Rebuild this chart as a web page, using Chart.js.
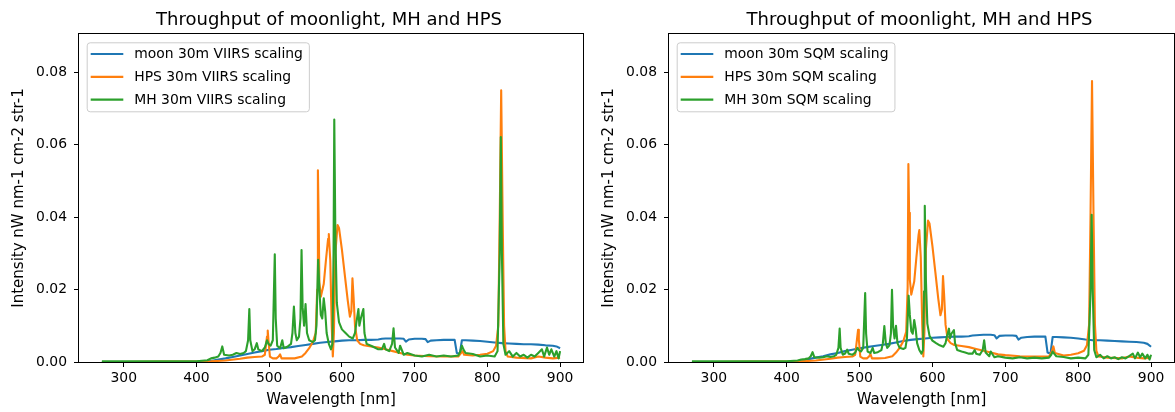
<!DOCTYPE html>
<html><head><meta charset="utf-8">
<script src="https://cdn.jsdelivr.net/npm/chart.js@4/dist/chart.umd.min.js"></script>
<style>
html,body{margin:0;padding:0;background:#fff;}
#wrap{position:relative;width:1175px;height:412px;overflow:hidden;background:#fff;}
.box{position:absolute;top:0;height:412px;}
canvas{display:block;}
</style></head><body>
<div id="wrap">
<div class="box" style="left:0;width:590px"><canvas id="c1" width="590" height="412"></canvas></div>
<div class="box" style="left:590px;width:585px"><canvas id="c2" width="585" height="412"></canvas></div>
</div>
<script>
// ---- tick labels ----
const xTicks = [300, 400, 500, 600, 700, 800, 900];
const yTicks = [0, 0.02, 0.04, 0.06, 0.08];

// ---- series labels ----
const labelsViirs = ['moon 30m VIIRS scaling', 'HPS 30m VIIRS scaling', 'MH 30m VIIRS scaling'];
const labelsSqm = ['moon 30m SQM scaling', 'HPS 30m SQM scaling', 'MH 30m SQM scaling'];

// ---- moonlight ----
const moonWl = [
  270, 300, 350, 400, 410, 420, 430, 440, 450, 460,
  470, 480, 490, 500, 510, 520, 530, 540, 550, 560,
  570, 580, 590, 600, 610, 620, 630, 640, 650, 655,
  660, 670, 680, 685, 688, 692, 700, 710, 715, 718,
  722, 730, 740, 750, 755, 758, 762, 765, 770, 780,
  790, 800, 810, 820, 830, 840, 850, 860, 870, 880,
  890, 895, 900];
const moonViirs = [
  0, 0, 0, 0, 0.0001, 0.0003, 0.0007, 0.0010, 0.0014, 0.0018,
  0.0022, 0.0026, 0.0030, 0.0034, 0.0036, 0.0039, 0.0041, 0.0044, 0.0047, 0.0050,
  0.0053, 0.0055, 0.0057, 0.0059, 0.0060, 0.0060, 0.0061, 0.0061, 0.0062, 0.0064,
  0.0065, 0.0065, 0.0065, 0.0064, 0.0056, 0.0062, 0.0064, 0.0064, 0.0063, 0.0055,
  0.0059, 0.0060, 0.0061, 0.0061, 0.0061, 0.0025, 0.0022, 0.0060, 0.0060, 0.0059,
  0.0058, 0.0056, 0.0054, 0.0052, 0.0051, 0.0050, 0.0049, 0.0049, 0.0048, 0.0046,
  0.0045, 0.0043, 0.0038];
const moonSqm = [
  0, 0, 0, 0, 0.0001, 0.0003, 0.0008, 0.0012, 0.0016, 0.0021,
  0.0025, 0.0030, 0.0034, 0.0038, 0.0041, 0.0044, 0.0047, 0.0050, 0.0054, 0.0058,
  0.0061, 0.0063, 0.0065, 0.0067, 0.0068, 0.0069, 0.0070, 0.0070, 0.0071, 0.0073,
  0.0074, 0.0075, 0.0075, 0.0074, 0.0065, 0.0072, 0.0073, 0.0073, 0.0072, 0.0062,
  0.0067, 0.0069, 0.0070, 0.0070, 0.0070, 0.0026, 0.0023, 0.0069, 0.0069, 0.0068,
  0.0067, 0.0065, 0.0062, 0.0060, 0.0060, 0.0059, 0.0058, 0.0057, 0.0056, 0.0055,
  0.0053, 0.0050, 0.0042];

// ---- high pressure sodium ----
const hpsWl = [
  270, 300, 350, 400, 420, 440, 460, 470, 480, 490,
  494, 497, 498, 499, 501, 505, 510, 513, 515, 517,
  525, 535, 545, 550, 555, 560, 564, 566, 567, 568,
  569, 571, 575, 578, 581, 582, 584, 586, 587.5, 589,
  591, 594, 596, 600, 604, 608, 611, 613, 614.5, 616,
  618, 621, 625, 630, 640, 650, 660, 670, 680, 690,
  700, 720, 740, 760, 764, 766, 768, 780, 790, 800,
  808, 812, 815, 817, 819, 821, 823, 825, 828, 840,
  860, 870, 880, 890, 900];
const hpsViirs = [
  0, 0, 0.0001, 0.0001, 0.0002, 0.0004, 0.0009, 0.0012, 0.0014, 0.0015,
  0.0020, 0.0070, 0.0087, 0.0060, 0.0015, 0.0010, 0.0010, 0.0015, 0.0021, 0.0010,
  0.0010, 0.0010, 0.0015, 0.0025, 0.0038, 0.0055, 0.0080, 0.0200, 0.0529, 0.0400,
  0.0220, 0.0180, 0.0215, 0.0280, 0.0340, 0.0353, 0.0280, 0.0100, 0.0015, 0.0080,
  0.0300, 0.0378, 0.0370, 0.0310, 0.0240, 0.0170, 0.0125, 0.0140, 0.0231, 0.0180,
  0.0100, 0.0060, 0.0050, 0.0046, 0.0043, 0.0040, 0.0035, 0.0030, 0.0025, 0.0020,
  0.0018, 0.0016, 0.0015, 0.0015, 0.0025, 0.0030, 0.0020, 0.0018, 0.0020, 0.0023,
  0.0030, 0.0045, 0.0100, 0.0400, 0.0750, 0.0400, 0.0100, 0.0030, 0.0015, 0.0012,
  0.0010, 0.0015, 0.0012, 0.0010, 0.0012];
const hpsSqm = [
  0, 0, 0.0001, 0.0001, 0.0002, 0.0004, 0.0009, 0.0012, 0.0014, 0.0015,
  0.0020, 0.0072, 0.0089, 0.0062, 0.0015, 0.0010, 0.0010, 0.0015, 0.0022, 0.0010,
  0.0010, 0.0011, 0.0016, 0.0026, 0.0039, 0.0057, 0.0083, 0.0206, 0.0546, 0.0412,
  0.0227, 0.0186, 0.0222, 0.0289, 0.0351, 0.0364, 0.0289, 0.0103, 0.0015, 0.0083,
  0.0310, 0.0390, 0.0382, 0.0320, 0.0248, 0.0175, 0.0129, 0.0145, 0.0237, 0.0186,
  0.0103, 0.0062, 0.0052, 0.0047, 0.0044, 0.0041, 0.0036, 0.0031, 0.0026, 0.0021,
  0.0019, 0.0016, 0.0015, 0.0015, 0.0030, 0.0043, 0.0025, 0.0018, 0.0020, 0.0024,
  0.0031, 0.0046, 0.0103, 0.0413, 0.0775, 0.0413, 0.0103, 0.0031, 0.0015, 0.0012,
  0.0010, 0.0015, 0.0012, 0.0010, 0.0012];

// ---- metal halide ----
const mhWl = [
  270, 300, 350, 400, 415, 420, 425, 430, 433, 435.5,
  438, 445, 450, 455, 460, 465, 468, 471, 472.7, 474,
  477, 480, 483, 485, 490, 494, 497, 499, 502, 505,
  507.7, 509, 511, 515, 518, 520, 525, 530, 532, 534,
  536, 538, 541, 543, 544.5, 546, 548, 550, 552, 555,
  560, 563, 565, 567.3, 569, 571, 573, 575, 577, 579,
  582, 585, 587, 588.5, 589.5, 591, 593, 596, 600, 605,
  610, 615, 618, 620, 622.7, 624, 626, 629.5, 631, 634,
  640, 645, 650, 655, 658, 660, 665, 669, 671, 673,
  678, 680, 685, 690, 700, 710, 720, 730, 740, 750,
  760, 763, 765, 767, 770, 780, 790, 800, 810, 814,
  817, 818.5, 820, 822, 825, 830, 835, 840, 845, 850,
  855, 860, 865, 870, 875, 878, 882, 885, 888, 892,
  895, 898, 900];
const mhViirs = [
  0.0002, 0.0002, 0.0002, 0.0002, 0.0005, 0.0010, 0.0012, 0.0015, 0.0025, 0.0043,
  0.0020, 0.0018, 0.0020, 0.0025, 0.0022, 0.0025, 0.0030, 0.0060, 0.0146, 0.0060,
  0.0030, 0.0035, 0.0052, 0.0035, 0.0030, 0.0040, 0.0060, 0.0050, 0.0045, 0.0060,
  0.0297, 0.0120, 0.0045, 0.0038, 0.0060, 0.0038, 0.0042, 0.0050, 0.0080, 0.0153,
  0.0080, 0.0060, 0.0070, 0.0120, 0.0309, 0.0150, 0.0100, 0.0160, 0.0080, 0.0060,
  0.0055, 0.0060, 0.0100, 0.0282, 0.0200, 0.0130, 0.0120, 0.0176, 0.0140, 0.0080,
  0.0050, 0.0035, 0.0050, 0.0300, 0.0669, 0.0350, 0.0163, 0.0110, 0.0090, 0.0080,
  0.0070, 0.0065, 0.0080, 0.0110, 0.0146, 0.0100, 0.0120, 0.0146, 0.0080, 0.0050,
  0.0045, 0.0040, 0.0035, 0.0035, 0.0050, 0.0035, 0.0030, 0.0050, 0.0093, 0.0040,
  0.0025, 0.0045, 0.0020, 0.0025, 0.0018, 0.0015, 0.0020, 0.0015, 0.0018, 0.0015,
  0.0018, 0.0030, 0.0045, 0.0035, 0.0025, 0.0022, 0.0015, 0.0018, 0.0015, 0.0030,
  0.0300, 0.0621, 0.0300, 0.0050, 0.0020, 0.0030, 0.0015, 0.0025, 0.0015, 0.0020,
  0.0012, 0.0020, 0.0015, 0.0025, 0.0035, 0.0015, 0.0040, 0.0020, 0.0035, 0.0015,
  0.0030, 0.0010, 0.0030];
const mhSqm = [
  0.0002, 0.0002, 0.0002, 0.0002, 0.0004, 0.0007, 0.0008, 0.0010, 0.0016, 0.0027,
  0.0013, 0.0012, 0.0013, 0.0016, 0.0014, 0.0016, 0.0020, 0.0039, 0.0092, 0.0039,
  0.0020, 0.0023, 0.0034, 0.0023, 0.0020, 0.0026, 0.0039, 0.0033, 0.0029, 0.0039,
  0.0190, 0.0078, 0.0029, 0.0025, 0.0039, 0.0025, 0.0027, 0.0033, 0.0052, 0.0099,
  0.0052, 0.0039, 0.0046, 0.0078, 0.0199, 0.0098, 0.0065, 0.0100, 0.0052, 0.0039,
  0.0036, 0.0039, 0.0065, 0.0183, 0.0130, 0.0085, 0.0078, 0.0116, 0.0091, 0.0052,
  0.0033, 0.0023, 0.0033, 0.0195, 0.0431, 0.0228, 0.0106, 0.0072, 0.0059, 0.0052,
  0.0046, 0.0042, 0.0052, 0.0072, 0.0092, 0.0065, 0.0078, 0.0088, 0.0052, 0.0033,
  0.0029, 0.0026, 0.0023, 0.0023, 0.0033, 0.0023, 0.0020, 0.0033, 0.0060, 0.0026,
  0.0016, 0.0029, 0.0013, 0.0016, 0.0012, 0.0010, 0.0013, 0.0010, 0.0012, 0.0010,
  0.0012, 0.0020, 0.0029, 0.0023, 0.0016, 0.0014, 0.0010, 0.0012, 0.0010, 0.0020,
  0.0196, 0.0406, 0.0196, 0.0033, 0.0013, 0.0020, 0.0010, 0.0016, 0.0010, 0.0013,
  0.0008, 0.0013, 0.0010, 0.0016, 0.0023, 0.0010, 0.0026, 0.0013, 0.0023, 0.0010,
  0.0020, 0.0007, 0.0020];

const TITLE = 'Throughput of moonlight, MH and HPS';
const COLORS = ['#1f77b4', '#ff7f0e', '#2ca02c'];
const FONT = '"DejaVu Sans", "Liberation Sans", sans-serif';

const decor = {
  id: 'decor',
  afterDatasetsDraw(chart, args, opts) {
    const {ctx, chartArea: a} = chart;
    ctx.save();
    // axes frame
    ctx.strokeStyle = '#000';
    ctx.lineWidth = 1;
    ctx.strokeRect(Math.round(a.left) - 0.5, Math.round(a.top) - 0.5,
                   Math.round(a.right - a.left) + 1, Math.round(a.bottom - a.top) + 1);
    // title
    ctx.fillStyle = '#000';
    ctx.font = '18px ' + FONT;
    ctx.textAlign = 'center';
    ctx.textBaseline = 'alphabetic';
    ctx.fillText(opts.title, (a.left + a.right) / 2 - 2, a.top - 8.6);
    // legend
    const fs = 13.9;
    ctx.font = fs + 'px ' + FONT;
    const ds = chart.data.datasets;
    const lx = a.left + 7.7, ly = a.top + 8.3;
    const textX = lx + 47.5;
    let maxW = 0;
    ds.forEach(d => { maxW = Math.max(maxW, ctx.measureText(d.label).width); });
    const w = textX + maxW + 6 - lx;
    const rowH = 22.8;
    const h = 11.7 * 2 + rowH * (ds.length - 1);
    ctx.beginPath();
    if (ctx.roundRect) ctx.roundRect(lx + 0.5, ly + 0.5, w, h, 3); else ctx.rect(lx + 0.5, ly + 0.5, w, h);
    ctx.fillStyle = 'rgba(255,255,255,0.8)';
    ctx.fill();
    ctx.strokeStyle = '#cccccc';
    ctx.lineWidth = 1;
    ctx.stroke();
    ds.forEach((d, i) => {
      const y = ly + 11.7 + rowH * i;
      ctx.strokeStyle = d.borderColor;
      ctx.lineWidth = 2.2;
      ctx.beginPath();
      ctx.moveTo(lx + 4, y);
      ctx.lineTo(lx + 36.6, y);
      ctx.stroke();
      ctx.fillStyle = '#000';
      ctx.textAlign = 'left';
      ctx.textBaseline = 'middle';
      ctx.fillText(d.label, textX, y + 0.5);
    });
    ctx.restore();
  }
};

function series(wl, vals) { return wl.map((x, i) => ({x: x, y: vals[i]})); }

function makeChart(id, labels, moon, hps, mh, padRight) {
  const tickFont = {family: FONT, size: 13.9};
  const labelFont = {family: FONT, size: 15};
  return new Chart(document.getElementById(id), {
    type: 'line',
    data: {
      datasets: [
        {label: labels[0], data: series(moonWl, moon), borderColor: COLORS[0], order: 3},
        {label: labels[1], data: series(hpsWl, hps), borderColor: COLORS[1], order: 2},
        {label: labels[2], data: series(mhWl, mh), borderColor: COLORS[2], order: 1}
      ].map(d => Object.assign(d, {borderWidth: 2.1, pointRadius: 0, tension: 0, fill: false, borderJoinStyle: 'round'}))
    },
    options: {
      responsive: false,
      animation: false,
      devicePixelRatio: 1,
      layout: {padding: {left: 0, right: padRight, top: 34, bottom: 0}},
      plugins: {legend: {display: false}, tooltip: {enabled: false}, decor: {title: TITLE}},
      scales: {
        x: {
          type: 'linear', min: 238.5, max: 931.5,
          afterBuildTicks: s => { s.ticks = xTicks.map(v => ({value: v})); },
          afterFit: s => { s.height = 50; },
          ticks: {font: tickFont, color: '#000', padding: 3, maxRotation: 0, autoSkip: false, callback: v => String(v)},
          grid: {drawOnChartArea: false, drawTicks: true, tickLength: 5, color: '#000'},
          border: {display: false},
          title: {display: true, text: 'Wavelength [nm]', font: labelFont, color: '#000', padding: {top: 0, bottom: 2.5}}
        },
        y: {
          type: 'linear', min: 0, max: 0.0905,
          afterBuildTicks: s => { s.ticks = yTicks.map(v => ({value: v})); },
          afterFit: s => { s.width = 79; },
          ticks: {font: tickFont, color: '#000', padding: 7, callback: v => Number(v).toFixed(2)},
          grid: {drawOnChartArea: false, drawTicks: true, tickLength: 5, color: '#000'},
          border: {display: false},
          title: {display: true, text: 'Intensity nW nm-1 cm-2 str-1', font: labelFont, color: '#000', padding: {top: 10, bottom: 0}}
        }
      }
    },
    plugins: [decor]
  });
}

makeChart('c1', labelsViirs, moonViirs, hpsViirs, mhViirs, 7);
makeChart('c2', labelsSqm, moonSqm, hpsSqm, mhSqm, 1);
</script>
</body></html>
